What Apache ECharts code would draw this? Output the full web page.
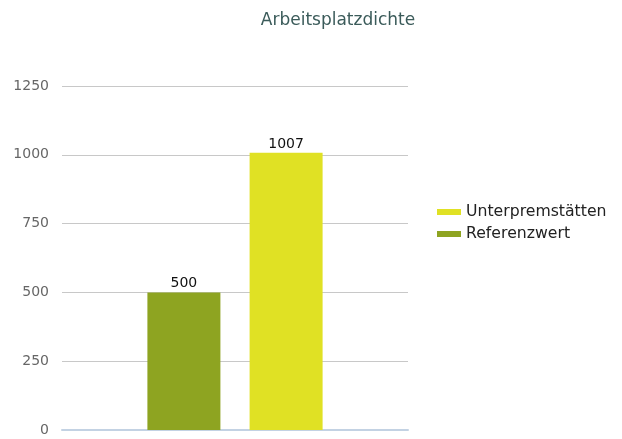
<!DOCTYPE html>
<html>
<head>
    <meta charset="utf-8">
    <script src="https://cdn.jsdelivr.net/npm/echarts@6/dist/echarts.min.js"></script>
</head>
<body style="margin:0">
    <div id="main" style="width:622px; height:439px"></div>
    <script type="text/javascript">
        var categories = ['Arbeitsplatzdichte'];
        var seriesNames = ['Referenzwert', 'Unterpremstätten'];
        var referenzwert = [500];
        var unterpremstaetten = [1007];
        var legendOrder = ['Unterpremstätten', 'Referenzwert'];

        var myChart = echarts.init(document.getElementById('main'));
        var font = 'DejaVu Sans';
        var option = {
            animation: false,
            textStyle: { fontFamily: font },
            title: {
                text: 'Arbeitsplatzdichte',
                left: 333,
                textAlign: 'center',
                top: 7,
                textStyle: { fontSize: 17, fontWeight: 'normal', color: '#3b5b5a', fontFamily: font }
            },
            legend: {
                data: legendOrder,
                orient: 'vertical',
                left: 432,
                top: 199,
                itemWidth: 24,
                itemHeight: 6,
                itemGap: 6,
                icon: 'rect',
                textStyle: { fontSize: 15.7, color: '#222', fontFamily: font }
            },
            grid: { left: 62, right: 214, top: 86, bottom: 9, containLabel: false },
            xAxis: {
                type: 'category',
                data: categories,
                axisLine: { lineStyle: { color: '#c3d2e3', width: 2 } },
                axisTick: { show: false },
                axisLabel: { show: false }
            },
            yAxis: {
                type: 'value',
                min: 0,
                max: 1250,
                interval: 250,
                axisLine: { show: false },
                axisTick: { show: false },
                axisLabel: { fontSize: 14, color: '#666', margin: 13, fontFamily: font,
                    formatter: function (v) { return String(v); } },
                splitLine: { lineStyle: { color: '#c8c8c8', width: 1 } }
            },
            series: [
                {
                    name: seriesNames[0],
                    type: 'bar',
                    data: referenzwert,
                    barWidth: 73,
                    barGap: '40%',
                    itemStyle: { color: '#8ea421' },
                    label: { show: true, position: 'top', distance: 2, fontSize: 14, color: '#111', fontFamily: font }
                },
                {
                    name: seriesNames[1],
                    type: 'bar',
                    data: unterpremstaetten,
                    barWidth: 73,
                    barGap: '40%',
                    itemStyle: { color: '#e0e124' },
                    label: { show: true, position: 'top', distance: 2, fontSize: 14, color: '#111', fontFamily: font }
                }
            ]
        };
        myChart.setOption(option);
    </script>
</body>
</html>
